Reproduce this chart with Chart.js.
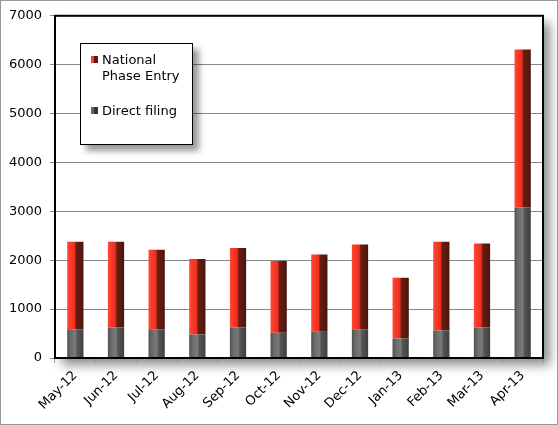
<!DOCTYPE html>
<html>
<head>
<meta charset="utf-8">
<script src="https://cdn.jsdelivr.net/npm/chart.js@4"></script>
<style>
  html, body { margin: 0; padding: 0; background: #fff; overflow: hidden; }
  #wrap { position: relative; width: 558px; height: 425px; }
  #chart { position: absolute; left: 0; top: 0; }
  #legend {
    position: absolute; left: 80px; top: 43px; width: 111px; height: 100px;
    background: #fff; border: 1px solid #000;
    box-shadow: 6px 6px 6px rgba(0,0,0,0.4);
    font-family: "DejaVu Sans", Verdana, sans-serif; font-size: 13px; color: #000;
  }
  .item { position: absolute; left: 10px; line-height: 16px; }
  .item span.mk { position: absolute; left: 0; top: 4px; width: 7px; height: 7px; }
  .item span.tx { position: absolute; left: 11px; top: 0; white-space: nowrap; }
</style>
</head>
<body>
<div id="wrap">
  <canvas id="chart" width="558" height="425"></canvas>
  <div id="legend">
    <div class="item" style="top:8px"><span class="mk" style="background:linear-gradient(90deg,#ff3b2f 50%,#5a1a10 50%)"></span><span class="tx">National<br>Phase Entry</span></div>
    <div class="item" style="top:59px"><span class="mk" style="background:linear-gradient(90deg,#666 50%,#333 50%)"></span><span class="tx">Direct filing</span></div>
  </div>
</div>
<script>
// Chart data
const months = ['May-12', 'Jun-12', 'Jul-12', 'Aug-12', 'Sep-12', 'Oct-12', 'Nov-12', 'Dec-12', 'Jan-13', 'Feb-13', 'Mar-13', 'Apr-13'];
const directFiling = [590, 625, 590, 480, 625, 515, 535, 590, 400, 565, 625, 3080];
const nationalPhase = [1790, 1755, 1625, 1545, 1625, 1470, 1580, 1730, 1240, 1815, 1715, 3230];
const yTicks = [0, 1000, 2000, 3000, 4000, 5000, 6000, 7000];

const FONT = '"DejaVu Sans", Verdana, sans-serif';

// Horizontal gradient across one bar, to fake the bevelled look
function barGradient(stops) {
  return (context) => {
    const chart = context.chart;
    const xScale = chart.scales.x;
    if (!xScale || context.dataIndex === undefined) return stops[1][1];
    const cx = xScale.getPixelForValue(context.dataIndex);
    const half = (xScale.width / months.length) * 0.4 / 2;
    if (!isFinite(cx) || !isFinite(half) || half <= 0) return stops[1][1];
    const g = chart.ctx.createLinearGradient(cx - half, 0, cx + half, 0);
    stops.forEach(s => g.addColorStop(s[0], s[1]));
    return g;
  };
}

const redStops = [[0, '#ff4a3a'], [0.15, '#ff3b2b'], [0.45, '#e8301f'], [0.55, '#6a1d12'], [1, '#4a160e']];
const grayStops = [[0, '#505050'], [0.2, '#6a6a6a'], [0.5, '#7a7a7a'], [0.62, '#555'], [1, '#404040']];

// Shadow behind the plot area, border around it and outer frame
const framePlugin = {
  id: 'frame',
  beforeDraw(chart) {
    const { ctx, chartArea: a } = chart;
    ctx.save();
    ctx.fillStyle = '#fff';
    ctx.fillRect(0, 0, chart.width, chart.height);
    ctx.shadowColor = 'rgba(0,0,0,0.45)';
    ctx.shadowBlur = 10;
    ctx.shadowOffsetX = 7;
    ctx.shadowOffsetY = 7;
    ctx.fillRect(a.left, a.top, a.right - a.left, a.bottom - a.top);
    ctx.restore();
  },
  afterDraw(chart) {
    const { ctx, chartArea: a } = chart;
    ctx.save();
    ctx.strokeStyle = '#000';
    ctx.lineWidth = 2;
    ctx.strokeRect(a.left, a.top, a.right - a.left, a.bottom - a.top);
    ctx.strokeStyle = '#999';
    ctx.lineWidth = 1;
    ctx.strokeRect(0.5, 0.5, chart.width - 1, chart.height - 1);
    ctx.restore();
  }
};

new Chart(document.getElementById('chart'), {
  type: 'bar',
  data: {
    labels: months,
    datasets: [
      {
        label: 'Direct filing',
        data: directFiling,
        backgroundColor: barGradient(grayStops),
        borderWidth: 0,
        stack: 's'
      },
      {
        label: 'National Phase Entry',
        data: nationalPhase,
        backgroundColor: barGradient(redStops),
        borderWidth: 0,
        stack: 's'
      }
    ]
  },
  options: {
    responsive: false,
    animation: false,
    layout: { padding: { left: 0, top: 15, right: 15, bottom: 0 } },
    plugins: {
      legend: { display: false },
      tooltip: { enabled: false }
    },
    datasets: {
      bar: { categoryPercentage: 1, barPercentage: 0.4 }
    },
    scales: {
      x: {
        stacked: true,
        afterFit: (scale) => { scale.height = 67; },
        grid: { drawOnChartArea: false, drawTicks: true, tickLength: 5, color: '#999', offset: true },
        border: { display: true, color: '#000', width: 2 },
        ticks: {
          color: '#000',
          font: { family: FONT, size: 13 },
          minRotation: 45,
          maxRotation: 45,
          padding: 5,
          autoSkip: false
        }
      },
      y: {
        stacked: true,
        min: 0,
        max: 7000,
        afterFit: (scale) => { scale.width = 55; },
        afterBuildTicks: (scale) => { scale.ticks = yTicks.map(v => ({ value: v })); },
        grid: { color: '#888', lineWidth: 1, drawTicks: true, tickLength: 5 },
        border: { display: true, color: '#000', width: 2 },
        ticks: {
          color: '#000',
          font: { family: FONT, size: 13 },
          padding: 8,
          callback: (value) => String(value)
        }
      }
    }
  },
  plugins: [framePlugin]
});
</script>
</body>
</html>
